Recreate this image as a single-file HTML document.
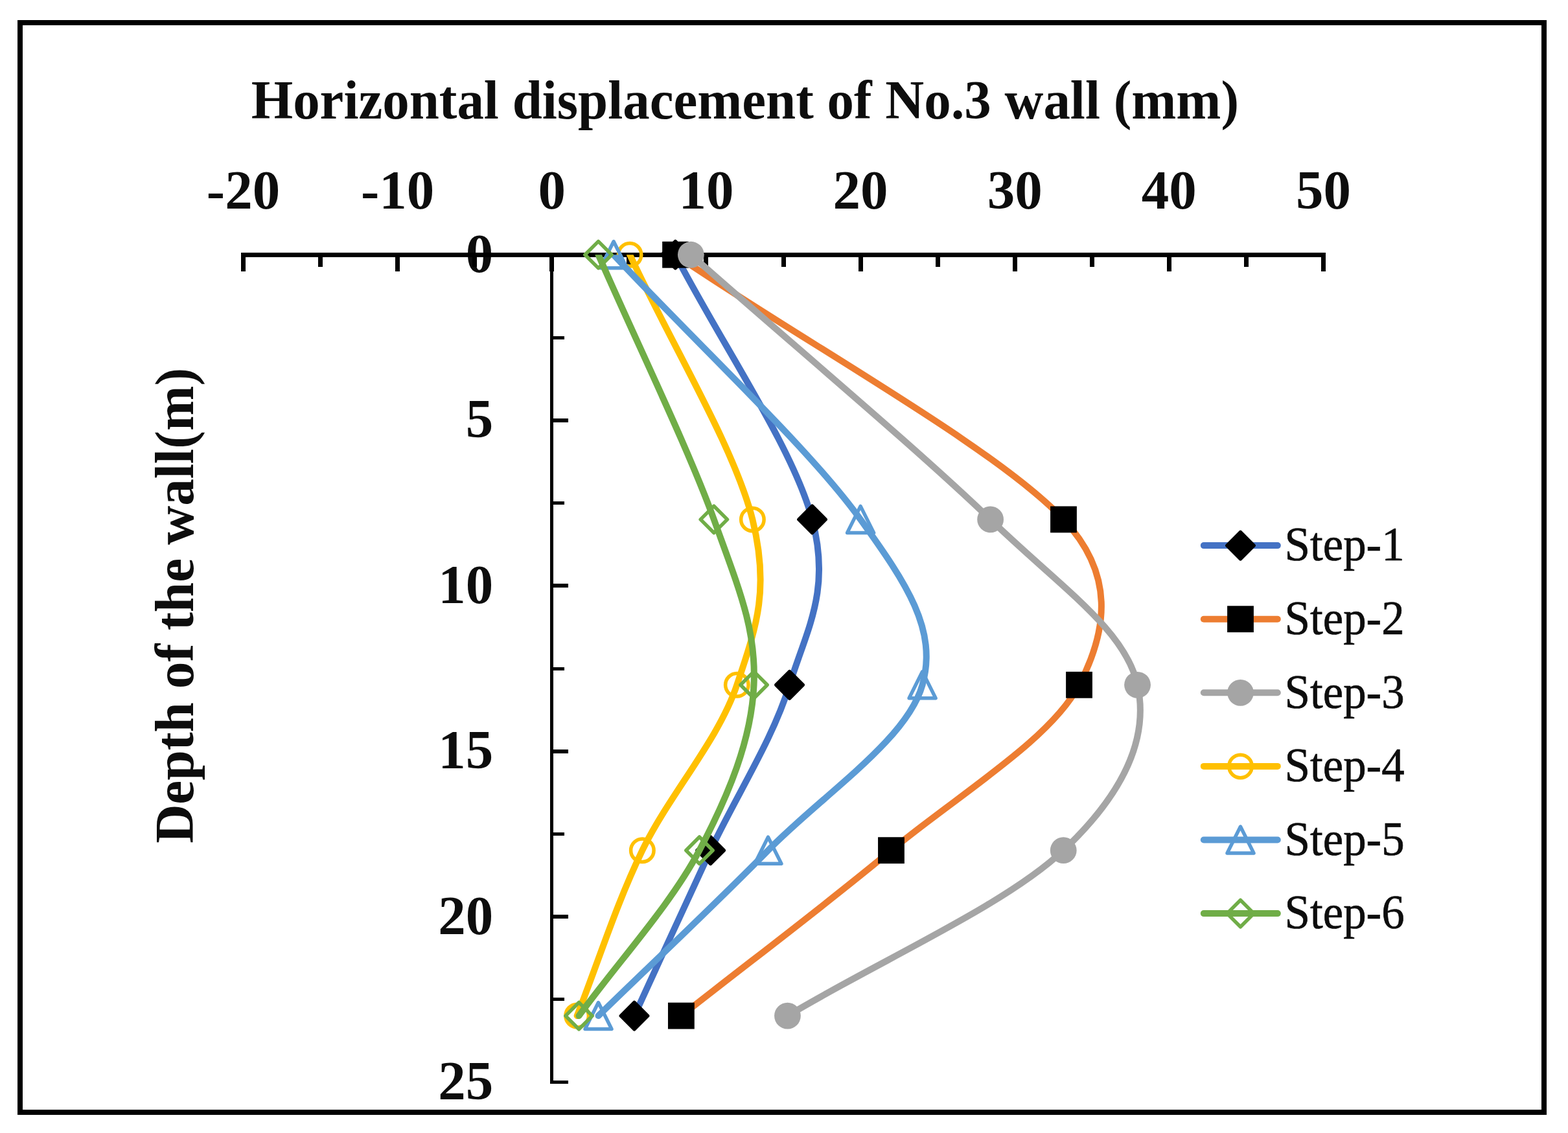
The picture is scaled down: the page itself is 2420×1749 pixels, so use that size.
<!DOCTYPE html><html><head><meta charset="utf-8"><title>Horizontal displacement of No.3 wall</title><style>html,body{margin:0;padding:0;background:#fff;}svg{display:block;}text{font-family:"Liberation Serif","Times New Roman",serif;fill:#0d0d0d;}.b{font-weight:bold;font-size:85px;}.l{font-size:74px;stroke:#0d0d0d;stroke-width:0.7px;}</style></head><body>
<svg width="2420" height="1749" viewBox="0 0 2420 1749">
<rect width="2420" height="1749" fill="#fff"/>
<defs><clipPath id="pa"><rect x="0" y="393.25" width="2420" height="1749"/></clipPath></defs>
<rect x="31" y="35" width="2352" height="1682" fill="none" stroke="#000" stroke-width="8"/>
<text class="b" transform="translate(1149.85 182.8) scale(0.9755 1)" text-anchor="middle">Horizontal displacement of No.3 wall (mm)</text>
<text class="b" transform="translate(297.6 934.8) rotate(-90) scale(0.981 1)" text-anchor="middle">Depth of the wall(m)</text>
<text class="b" x="375.52" y="322" text-anchor="middle">-20</text>
<text class="b" x="613.66" y="322" text-anchor="middle">-10</text>
<text class="b" x="851.8" y="322" text-anchor="middle">0</text>
<text class="b" x="1089.94" y="322" text-anchor="middle">10</text>
<text class="b" x="1328.08" y="322" text-anchor="middle">20</text>
<text class="b" x="1566.22" y="322" text-anchor="middle">30</text>
<text class="b" x="1804.36" y="322" text-anchor="middle">40</text>
<text class="b" x="2042.5" y="322" text-anchor="middle">50</text>
<text class="b" x="761.2" y="419.9" text-anchor="end">0</text>
<text class="b" x="761.2" y="675.3" text-anchor="end">5</text>
<text class="b" x="761.2" y="930.7" text-anchor="end">10</text>
<text class="b" x="761.2" y="1186.1" text-anchor="end">15</text>
<text class="b" x="761.2" y="1441.5" text-anchor="end">20</text>
<text class="b" x="761.2" y="1696.9" text-anchor="end">25</text>
<g fill="#000"><rect x="372" y="390" width="1674" height="7"/><rect x="372" y="390" width="7" height="29"/><rect x="491" y="390" width="7" height="22"/><rect x="610" y="390" width="7" height="29"/><rect x="729" y="390" width="7" height="22"/><rect x="848" y="390" width="7" height="29"/><rect x="967" y="390" width="7" height="22"/><rect x="1086" y="390" width="7" height="29"/><rect x="1206" y="390" width="7" height="22"/><rect x="1325" y="390" width="7" height="29"/><rect x="1444" y="390" width="7" height="22"/><rect x="1563" y="390" width="7" height="29"/><rect x="1682" y="390" width="7" height="22"/><rect x="1801" y="390" width="7" height="29"/><rect x="1920" y="390" width="7" height="22"/><rect x="2039" y="390" width="7" height="29"/><rect x="849" y="393.5" width="5" height="1279.5"/><rect x="849" y="519" width="22" height="5"/><rect x="849" y="646" width="28" height="6"/><rect x="849" y="774" width="22" height="5"/><rect x="849" y="901" width="28" height="6"/><rect x="849" y="1030" width="22" height="5"/><rect x="849" y="1157" width="28" height="6"/><rect x="849" y="1285" width="22" height="5"/><rect x="849" y="1412" width="28" height="6"/><rect x="849" y="1540" width="22" height="5"/><rect x="849" y="1668" width="28" height="5"/></g>
<path d="M1042.31 393.25 C1112.72 529.46 1224.17 691.22 1253.54 801.89 C1282.91 912.56 1244.69 972.16 1218.54 1057.29 C1192.38 1142.42 1136.54 1227.56 1096.61 1312.69 C1056.68 1397.82 1018.18 1482.96 978.97 1568.09" fill="none" stroke="#4472C4" stroke-width="10" stroke-linecap="round" stroke-linejoin="round" clip-path="url(#pa)"/>
<path d="M1042.31 372.6L1062.96 393.25L1042.31 413.9L1021.66 393.25Z" fill="#000" stroke="#000" stroke-width="5.5" stroke-linejoin="round"/>
<path d="M1253.54 781.24L1274.19 801.89L1253.54 822.54L1232.89 801.89Z" fill="#000" stroke="#000" stroke-width="5.5" stroke-linejoin="round"/>
<path d="M1218.54 1036.64L1239.19 1057.29L1218.54 1077.94L1197.89 1057.29Z" fill="#000" stroke="#000" stroke-width="5.5" stroke-linejoin="round"/>
<path d="M1096.61 1292.04L1117.26 1312.69L1096.61 1333.34L1075.96 1312.69Z" fill="#000" stroke="#000" stroke-width="5.5" stroke-linejoin="round"/>
<path d="M978.97 1547.44L999.62 1568.09L978.97 1588.74L958.32 1568.09Z" fill="#000" stroke="#000" stroke-width="5.5" stroke-linejoin="round"/>
<path d="M1042.55 393.25 C1242.19 529.46 1537.64 691.22 1641.47 801.89 C1720.45 886.08 1709.86 972.16 1665.52 1057.29 C1621.19 1142.42 1477.83 1227.56 1375.47 1312.69 C1273.11 1397.82 1159.4 1482.96 1051.36 1568.09" fill="none" stroke="#ED7D31" stroke-width="10" stroke-linecap="round" stroke-linejoin="round" clip-path="url(#pa)"/>
<rect x="1022.15" y="372.85" width="40.8" height="40.8" fill="#000"/>
<rect x="1621.07" y="781.49" width="40.8" height="40.8" fill="#000"/>
<rect x="1645.12" y="1036.89" width="40.8" height="40.8" fill="#000"/>
<rect x="1355.07" y="1292.29" width="40.8" height="40.8" fill="#000"/>
<rect x="1030.96" y="1547.69" width="40.8" height="40.8" fill="#000"/>
<path d="M1066.36 393.25 C1220.44 529.46 1413.73 691.22 1528.59 801.89 C1639.31 908.57 1736.77 972.16 1755.54 1057.29 C1774.31 1142.42 1731.25 1227.56 1641.23 1312.69 C1551.22 1397.82 1357.37 1482.96 1215.44 1568.09" fill="none" stroke="#A5A5A5" stroke-width="10" stroke-linecap="round" stroke-linejoin="round" clip-path="url(#pa)"/>
<circle cx="1066.36" cy="393.25" r="20.4" fill="#A5A5A5"/>
<circle cx="1528.59" cy="801.89" r="20.4" fill="#A5A5A5"/>
<circle cx="1755.54" cy="1057.29" r="20.4" fill="#A5A5A5"/>
<circle cx="1641.23" cy="1312.69" r="20.4" fill="#A5A5A5"/>
<circle cx="1215.44" cy="1568.09" r="20.4" fill="#A5A5A5"/>
<path d="M972.06 393.25 C1035.17 529.46 1133.84 691.22 1161.38 801.89 C1188.93 912.56 1165.67 972.16 1137.33 1057.29 C1108.99 1142.42 1032.47 1227.56 991.35 1312.69 C950.23 1397.82 924.19 1482.96 890.62 1568.09" fill="none" stroke="#FFC000" stroke-width="10" stroke-linecap="round" stroke-linejoin="round" clip-path="url(#pa)"/>
<circle cx="972.06" cy="393.25" r="17.75" fill="none" stroke="#FFC000" stroke-width="5.5"/>
<circle cx="1161.38" cy="801.89" r="17.75" fill="none" stroke="#FFC000" stroke-width="5.5"/>
<circle cx="1137.33" cy="1057.29" r="17.75" fill="none" stroke="#FFC000" stroke-width="5.5"/>
<circle cx="991.35" cy="1312.69" r="17.75" fill="none" stroke="#FFC000" stroke-width="5.5"/>
<circle cx="890.62" cy="1568.09" r="17.75" fill="none" stroke="#FFC000" stroke-width="5.5"/>
<path d="M947.06 393.25 C1074.06 529.46 1248.66 691.22 1328.08 801.89 C1399.62 901.58 1447.35 972.16 1423.57 1057.29 C1399.8 1142.42 1268.78 1227.56 1185.43 1312.69 C1102.09 1397.82 1010.8 1482.96 923.48 1568.09" fill="none" stroke="#5B9BD5" stroke-width="10" stroke-linecap="round" stroke-linejoin="round" clip-path="url(#pa)"/>
<path d="M947.06 372.75L967.56 413.75L926.56 413.75Z" fill="none" stroke="#5B9BD5" stroke-width="5.5" stroke-linejoin="round"/>
<path d="M1328.08 781.39L1348.58 822.39L1307.58 822.39Z" fill="none" stroke="#5B9BD5" stroke-width="5.5" stroke-linejoin="round"/>
<path d="M1423.57 1036.79L1444.07 1077.79L1403.07 1077.79Z" fill="none" stroke="#5B9BD5" stroke-width="5.5" stroke-linejoin="round"/>
<path d="M1185.43 1292.19L1205.93 1333.19L1164.93 1333.19Z" fill="none" stroke="#5B9BD5" stroke-width="5.5" stroke-linejoin="round"/>
<path d="M923.48 1547.59L943.98 1588.59L902.98 1588.59Z" fill="none" stroke="#5B9BD5" stroke-width="5.5" stroke-linejoin="round"/>
<path d="M923.48 393.25 C982.94 529.46 1061.84 691.22 1101.85 801.89 C1141.85 912.56 1167.26 972.16 1163.53 1057.29 C1159.79 1142.42 1124.47 1227.56 1079.46 1312.69 C1034.45 1397.82 955.47 1482.96 893.47 1568.09" fill="none" stroke="#70AD47" stroke-width="10" stroke-linecap="round" stroke-linejoin="round" clip-path="url(#pa)"/>
<path d="M923.48 372.6L944.13 393.25L923.48 413.9L902.83 393.25Z" fill="none" stroke="#70AD47" stroke-width="5.5" stroke-linejoin="round"/>
<path d="M1101.85 781.24L1122.5 801.89L1101.85 822.54L1081.2 801.89Z" fill="none" stroke="#70AD47" stroke-width="5.5" stroke-linejoin="round"/>
<path d="M1163.53 1036.64L1184.18 1057.29L1163.53 1077.94L1142.88 1057.29Z" fill="none" stroke="#70AD47" stroke-width="5.5" stroke-linejoin="round"/>
<path d="M1079.46 1292.04L1100.11 1312.69L1079.46 1333.34L1058.81 1312.69Z" fill="none" stroke="#70AD47" stroke-width="5.5" stroke-linejoin="round"/>
<path d="M893.47 1547.44L914.12 1568.09L893.47 1588.74L872.82 1568.09Z" fill="none" stroke="#70AD47" stroke-width="5.5" stroke-linejoin="round"/>
<line x1="1857.8" y1="842.1" x2="1971.8" y2="842.1" stroke="#4472C4" stroke-width="10" stroke-linecap="round"/>
<path d="M1914.5 821.45L1935.15 842.1L1914.5 862.75L1893.85 842.1Z" fill="#000" stroke="#000" stroke-width="5.5" stroke-linejoin="round"/>
<text class="l" transform="translate(1982.6 865.4) scale(0.958 1)">Step-1</text>
<line x1="1857.8" y1="955.7" x2="1971.8" y2="955.7" stroke="#ED7D31" stroke-width="10" stroke-linecap="round"/>
<rect x="1894.1" y="935.3" width="40.8" height="40.8" fill="#000"/>
<text class="l" transform="translate(1982.6 979) scale(0.958 1)">Step-2</text>
<line x1="1857.8" y1="1069.3" x2="1971.8" y2="1069.3" stroke="#A5A5A5" stroke-width="10" stroke-linecap="round"/>
<circle cx="1914.5" cy="1069.3" r="20.4" fill="#A5A5A5"/>
<text class="l" transform="translate(1982.6 1092.6) scale(0.958 1)">Step-3</text>
<line x1="1857.8" y1="1182.9" x2="1971.8" y2="1182.9" stroke="#FFC000" stroke-width="10" stroke-linecap="round"/>
<circle cx="1914.5" cy="1182.9" r="17.75" fill="none" stroke="#FFC000" stroke-width="5.5"/>
<text class="l" transform="translate(1982.6 1206.2) scale(0.958 1)">Step-4</text>
<line x1="1857.8" y1="1296.5" x2="1971.8" y2="1296.5" stroke="#5B9BD5" stroke-width="10" stroke-linecap="round"/>
<path d="M1914.5 1276L1935 1317L1894 1317Z" fill="none" stroke="#5B9BD5" stroke-width="5.5" stroke-linejoin="round"/>
<text class="l" transform="translate(1982.6 1319.8) scale(0.958 1)">Step-5</text>
<line x1="1857.8" y1="1410.1" x2="1971.8" y2="1410.1" stroke="#70AD47" stroke-width="10" stroke-linecap="round"/>
<path d="M1914.5 1389.45L1935.15 1410.1L1914.5 1430.75L1893.85 1410.1Z" fill="none" stroke="#70AD47" stroke-width="5.5" stroke-linejoin="round"/>
<text class="l" transform="translate(1982.6 1433.4) scale(0.958 1)">Step-6</text>
</svg></body></html>
